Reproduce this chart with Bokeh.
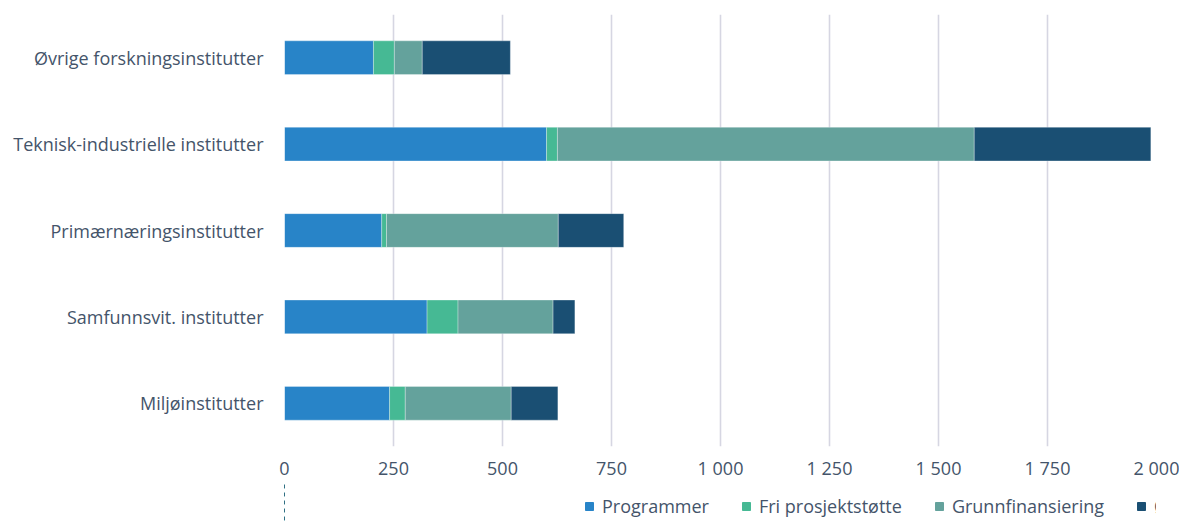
from bokeh.plotting import figure
from bokeh.models import Legend, LegendItem, FixedTicker, ColumnDataSource, Range1d
from bokeh.layouts import column
from bokeh.embed import file_html
from bokeh.resources import INLINE

categories = ["Miljøinstitutter", "Samfunnsvit. institutter", "Primærnæringsinstitutter",
              "Teknisk-industrielle institutter", "Øvrige forskningsinstitutter"]
series = ["Programmer", "Fri prosjektstøtte", "Grunnfinansiering", "Øvrige"]
programmer = [241, 327, 223, 601, 204]
fri = [36, 71, 11, 25, 48]
grunn = [243, 218, 394, 956, 64]
ovrige = [107, 50, 150, 405, 202]
colors = ["#2884C8", "#46B994", "#64A29C", "#1A4F73"]
tick_values = [0, 250, 500, 750, 1000, 1250, 1500, 1750, 2000]
tick_labels = ["0", "250", "500", "750", "1 000", "1 250", "1 500", "1 750", "2 000"]

FONT = "Open Sans"
TXT = "#44546A"

src = ColumnDataSource(dict(cat=categories, p0=programmer, p1=fri, p2=grunn, p3=ovrige))
keys = ["p0", "p1", "p2", "p3"]

p = figure(y_range=categories, x_range=(0, 2000), frame_width=872, frame_height=432,
           output_backend="svg", toolbar_location=None,
           min_border_left=284, min_border_right=23, min_border_top=14, min_border_bottom=0)

p.hbar_stack(keys, y="cat", height=0.39, color=colors, source=src,
             line_color="white", line_width=0.6, line_alpha=0.5)

p.outline_line_color = None
p.ygrid.grid_line_color = None
p.xgrid.grid_line_color = "#D6D6E2"
p.xgrid.grid_line_width = 1.6

p.xaxis.ticker = FixedTicker(ticks=tick_values)
p.xaxis.major_label_overrides = {v: l for v, l in zip(tick_values, tick_labels)}
for ax in (p.xaxis[0], p.yaxis[0]):
    ax.axis_line_color = None
    ax.major_tick_line_color = None
    ax.minor_tick_line_color = None
    ax.major_label_text_font = FONT
    ax.major_label_text_font_size = "18px"
    ax.major_label_text_color = TXT
p.xaxis.major_label_standoff = 3
p.yaxis.major_label_standoff = 15

# Legend strip: a second figure whose frame holds the legend (its bars lie outside the view)
leg = figure(y_range=categories, x_range=Range1d(5000, 6000), width=1179, height=40,
             output_backend="svg", toolbar_location=None, min_border=0,
             x_axis_location=None, y_axis_location=None)
leg.outline_line_color = None
leg.grid.visible = False
leg_renderers = leg.hbar_stack(keys, y="cat", height=0.39, color=colors, source=src)

legend = Legend(items=[LegendItem(label=s, renderers=[r]) for s, r in zip(series, leg_renderers)],
                orientation="horizontal", location=(300, 4),
                label_text_font=FONT, label_text_font_size="18px", label_text_color=TXT,
                glyph_width=10, glyph_height=10, label_standoff=8, spacing=32,
                background_fill_alpha=0, border_line_color=None, padding=0, margin=0)
leg.add_layout(legend, "center")

layout = column(p, leg, spacing=0)
open("out.html", "w").write(file_html(layout, INLINE))
